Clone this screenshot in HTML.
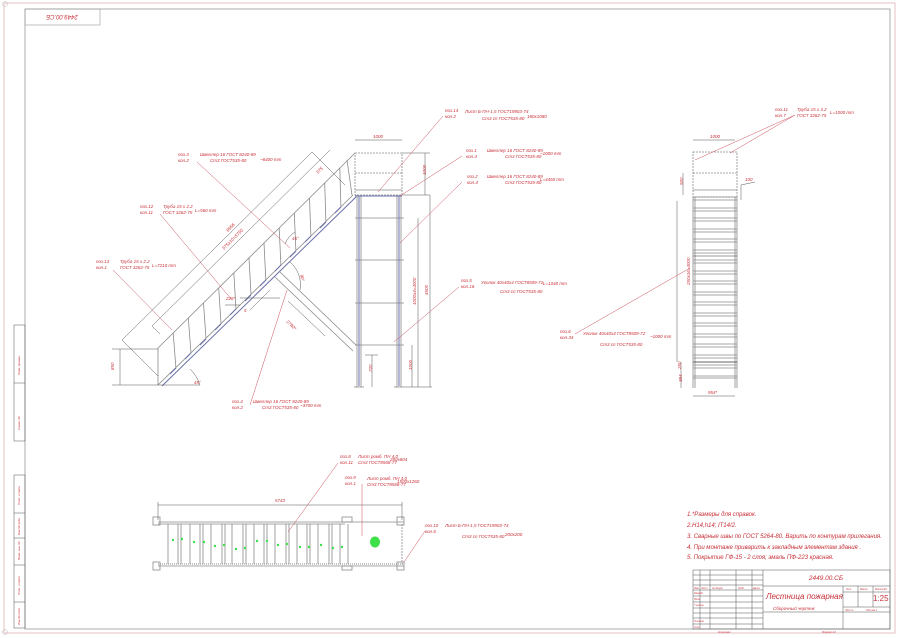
<!DOCTYPE html>
<html><head><meta charset="utf-8"><style>
html,body{margin:0;padding:0;background:#fff;width:910px;height:638px;overflow:hidden}
svg{display:block}
text{font-family:"Liberation Sans","DejaVu Sans",sans-serif;fill:#c8323a;font-style:italic}
.s{font-size:4.5px}
.n{font-size:7px}
.g{stroke:#8a8a8a;stroke-width:.8;fill:none}
.d{stroke:#555;stroke-width:.5;fill:none}
.r{stroke:#c8505a;stroke-width:.5;fill:none}
.b{stroke:#6a70a8;stroke-width:1;fill:none}
</style></head><body>
<svg width="910" height="638" viewBox="0 0 910 638" xmlns="http://www.w3.org/2000/svg">
<rect x="4" y="3" width="891" height="630" fill="none" stroke="#e0b0b4" stroke-width=".8"/>
<rect x="25" y="9" width="865" height="620" fill="none" stroke="#999" stroke-width=".8"/>
<rect x="25" y="9" width="75" height="16" fill="none" stroke="#999" stroke-width=".6"/>
<text x="62" y="20" class="n" text-anchor="middle" transform="rotate(180 62 17.5)" style="font-size:6px">2449.00.СБ</text>
<circle cx="5" cy="4" r="2.5" fill="none" stroke="#bbb" stroke-width=".5"/>
<circle cx="5" cy="632" r="2.5" fill="none" stroke="#bbb" stroke-width=".5"/>
<g class="d" stroke="#999">
<rect x="14" y="325" width="11" height="116"/>
<line x1="14" y1="383" x2="25" y2="383"/>
<rect x="14" y="475" width="11" height="153"/>
<line x1="14" y1="513" x2="25" y2="513"/>
<line x1="14" y1="538" x2="25" y2="538"/>
<line x1="14" y1="565" x2="25" y2="565"/>
<line x1="14" y1="602" x2="25" y2="602"/>
</g>
<g style="font-size:3px">
<text x="20" y="375" transform="rotate(-90 20 375)" class="s" style="font-size:3px">Перв. примен.</text>
<text x="20" y="430" transform="rotate(-90 20 430)" class="s" style="font-size:3px">Справ. №</text>
<text x="20" y="505" transform="rotate(-90 20 505)" class="s" style="font-size:3px">Подп. и дата</text>
<text x="20" y="535" transform="rotate(-90 20 535)" class="s" style="font-size:3px">Инв.№ дубл.</text>
<text x="20" y="560" transform="rotate(-90 20 560)" class="s" style="font-size:3px">Взам. инв. №</text>
<text x="20" y="595" transform="rotate(-90 20 595)" class="s" style="font-size:3px">Подп. и дата</text>
<text x="20" y="625" transform="rotate(-90 20 625)" class="s" style="font-size:3px">Инв.№ подл.</text>
</g>

<g class="g">
<line x1="158" y1="385" x2="353" y2="195"/>
<line x1="158" y1="348" x2="355" y2="153"/>
<line x1="158" y1="348" x2="158" y2="385"/>
<line x1="173.2" y1="333" x2="175.9" y2="367.5"/>
<line x1="188.3" y1="318" x2="191" y2="352.9"/>
<line x1="203.5" y1="303" x2="206" y2="338.3"/>
<line x1="218.7" y1="288" x2="221" y2="323.6"/>
<line x1="233.8" y1="272.9" x2="236" y2="309"/>
<line x1="249" y1="257.9" x2="251" y2="294.4"/>
<line x1="264" y1="243.1" x2="265.8" y2="279.9"/>
<line x1="279.2" y1="228.1" x2="280.9" y2="265.3"/>
<line x1="294.3" y1="213.1" x2="295.9" y2="250.7"/>
<line x1="309.5" y1="198" x2="310.9" y2="236"/>
<line x1="324.7" y1="183" x2="325.9" y2="221.4"/>
<line x1="339.8" y1="168" x2="340.9" y2="206.8"/>
<line x1="347" y1="160" x2="352" y2="195"/>
<line x1="275" y1="277" x2="353" y2="351"/>
<line x1="280" y1="272" x2="356" y2="345"/>
</g>
<line x1="162" y1="386" x2="356" y2="197" class="b"/>
<g class="b" stroke-width="1.5">
<line x1="170" y1="374" x2="176" y2="368"/><line x1="185" y1="359" x2="191" y2="353"/>
<line x1="200" y1="345" x2="206" y2="339"/><line x1="215" y1="330" x2="221" y2="324"/>
<line x1="230" y1="315" x2="236" y2="309"/><line x1="245" y1="301" x2="251" y2="295"/>
<line x1="260" y1="286" x2="266" y2="280"/><line x1="275" y1="271" x2="281" y2="265"/>
<line x1="290" y1="257" x2="296" y2="251"/><line x1="305" y1="242" x2="311" y2="236"/>
<line x1="320" y1="228" x2="326" y2="222"/><line x1="335" y1="213" x2="341" y2="207"/>
</g>
<g class="d">
<line x1="122" y1="340" x2="312" y2="152"/>
<line x1="122" y1="340" x2="158" y2="376"/>
<line x1="312" y1="152" x2="345" y2="185"/>
<line x1="152" y1="326" x2="330" y2="150"/>
<line x1="152" y1="326" x2="160" y2="334"/>
<line x1="120" y1="349" x2="120" y2="385"/>
<line x1="112" y1="349" x2="158" y2="349"/>
<line x1="112" y1="385" x2="200" y2="385"/>
<path d="M190 369 A40 40 0 0 1 200 385"/>
<path d="M290 262 A30 30 0 0 1 300 290"/>
<path d="M285 244 A25 25 0 0 1 295 232"/>
<line x1="240" y1="298" x2="280" y2="298"/>
<line x1="225" y1="305" x2="240" y2="305"/>
<line x1="288" y1="301" x2="325" y2="336"/>
<line x1="270" y1="290" x2="250" y2="310"/>
</g>
<text x="112" y="372" class="s" transform="rotate(-90 112 370)">850</text>
<text x="194" y="384" class="s">45°</text>
<text x="226" y="300" class="s">225*</text>
<text x="244" y="312" class="s">5</text>
<text x="292" y="240" class="s">45°</text>
<text x="300" y="275" class="s" transform="rotate(75 300 275)">90°</text>
<text x="286" y="322" class="s" transform="rotate(44 286 322)">2780*</text>
<text x="228" y="232" class="s" transform="rotate(-45 228 232)">6956</text>
<text x="224" y="250" class="s" transform="rotate(-45 224 250)">575x10=5750</text>
<text x="318" y="174" class="s" transform="rotate(-45 318 174)">575</text>

<g class="g">
<rect x="355" y="153" width="47" height="42" stroke-dasharray="2 1"/>
<line x1="355" y1="173" x2="402" y2="173" stroke-dasharray="2 1"/>
<line x1="355" y1="190" x2="402" y2="190"/>
<line x1="357" y1="195" x2="357" y2="387"/><line x1="361" y1="195" x2="361" y2="387"/>
<line x1="397" y1="195" x2="397" y2="387"/><line x1="401" y1="195" x2="401" y2="387"/>
<line x1="355" y1="218" x2="404" y2="218"/>
<line x1="355" y1="260" x2="404" y2="260"/>
<line x1="355" y1="303" x2="404" y2="303"/>
<line x1="355" y1="345" x2="404" y2="345"/>
<line x1="354" y1="387" x2="364" y2="387"/><line x1="394" y1="387" x2="404" y2="387"/>
</g>
<g class="b" stroke-width=".8">
<line x1="359" y1="196" x2="359" y2="386"/><line x1="399" y1="196" x2="399" y2="386"/>
<line x1="355" y1="196" x2="402" y2="196"/>
</g>
<g class="d">
<line x1="355" y1="140" x2="402" y2="140"/>
<line x1="425" y1="153" x2="425" y2="195"/>
<line x1="430" y1="195" x2="430" y2="387"/>
<line x1="418" y1="218" x2="418" y2="387"/>
<line x1="412" y1="345" x2="412" y2="387"/>
<line x1="372" y1="355" x2="372" y2="387"/>
<line x1="365" y1="355" x2="378" y2="355"/>
<line x1="402" y1="153" x2="430" y2="153"/>
<line x1="402" y1="195" x2="430" y2="195"/>
<line x1="404" y1="387" x2="432" y2="387"/>
</g>
<text x="378" y="138" class="s" text-anchor="middle">1000</text>
<text x="423" y="178" class="s" transform="rotate(-90 423 175)">1000</text>
<text x="428" y="295" class="s" transform="rotate(-90 428 295)">4500</text>
<text x="416" y="305" class="s" transform="rotate(-90 416 305)">1000x4=4000</text>
<text x="410" y="372" class="s" transform="rotate(-90 410 370)">1000</text>
<text x="370" y="374" class="s" transform="rotate(-90 370 372)">720</text>

<g class="g">
<rect x="693" y="152" width="44" height="45" stroke-dasharray="2 1"/>
<line x1="693" y1="173" x2="737" y2="173" stroke-dasharray="2 1"/>
<line x1="693" y1="190" x2="737" y2="190"/>
<line x1="693" y1="197" x2="693" y2="388"/><line x1="695" y1="197" x2="695" y2="388"/>
<line x1="735" y1="197" x2="735" y2="388"/><line x1="737" y1="197" x2="737" y2="388"/>
</g>
<g class="g" stroke-width=".6">
<path d="M693 197H737M693 200H737M693 208H737M693 211H737M693 218H737M693 221H737M693 229H737M693 232H737M693 239H737M693 242H737M693 250H737M693 253H737M693 260H737M693 263H737M693 271H737M693 274H737M693 281H737M693 284H737M693 292H737M693 295H737M693 302H737M693 305H737M693 313H737M693 316H737M693 323H737M693 326H737M693 334H737M693 337H737M693 344H737M693 347H737M693 355H737M693 358H737M693 365H737M693 368H737M693 376H737M693 378H737"/>
</g>
<line x1="693" y1="362" x2="737" y2="362" stroke="#333" stroke-width=".8"/>
<line x1="693" y1="256" x2="737" y2="256" stroke="#333" stroke-width=".6"/>
<g class="d">
<line x1="693" y1="140" x2="735" y2="140"/>
<line x1="683" y1="173" x2="683" y2="195"/>
<line x1="677" y1="201" x2="677" y2="362"/>
<line x1="681" y1="362" x2="681" y2="375"/>
<line x1="681" y1="375" x2="681" y2="388"/>
<line x1="693" y1="396" x2="735" y2="396"/>
<line x1="741" y1="185" x2="741" y2="200"/>
<line x1="741" y1="185" x2="755" y2="182"/>
</g>
<text x="715" y="138" class="s" text-anchor="middle">1000</text>
<text x="681" y="187" class="s" transform="rotate(-90 681 185)">500</text>
<text x="675" y="300" class="s" transform="rotate(-90 675 285)">250x16=4000</text>
<text x="680" y="370" class="s" transform="rotate(-90 680 369)">250</text>
<text x="680" y="384" class="s" transform="rotate(-90 680 382)">384</text>
<text x="708" y="394" class="s">954*</text>
<text x="745" y="181" class="s">100</text>

<g class="g">
<line x1="158" y1="522" x2="404" y2="522"/>
<line x1="158" y1="524" x2="345" y2="524"/>
<line x1="158" y1="566" x2="404" y2="566"/>
<line x1="158" y1="564" x2="404" y2="564" stroke="#666" stroke-dasharray="1 1"/>
<rect x="153" y="517" width="7" height="8"/><rect x="153" y="562" width="7" height="8"/>
<rect x="342" y="517" width="10" height="5"/><rect x="342" y="566" width="10" height="4"/>
<rect x="397" y="517" width="7" height="8"/><rect x="397" y="562" width="7" height="8"/>
<line x1="402" y1="524" x2="402" y2="564" stroke-dasharray="2 1"/>
<line x1="348" y1="524" x2="348" y2="564"/>
<path d="M168 524V564M178 524V564M181 524V564M190 524V564M200 524V564M203 524V564M211 524V564M222 524V564M225 524V564M232 524V564M243 524V564M246 524V564M254 524V564M264 524V564M267 524V564M275 524V564M286 524V564M289 524V564M297 524V564M307 524V564M310 524V564M318 524V564M329 524V564M332 524V564M340 524V564"/>
</g>
<g class="d"><line x1="158" y1="505" x2="402" y2="505"/><line x1="158" y1="502" x2="158" y2="520"/><line x1="402" y1="502" x2="402" y2="520"/></g>
<text x="280" y="502" class="s" text-anchor="middle">5743</text>
<g fill="#3ee04a">
<circle cx="173" cy="540" r="1.2"/><circle cx="182" cy="539" r="1.2"/><circle cx="194" cy="542" r="1.2"/><circle cx="204" cy="542" r="1.2"/>
<circle cx="215" cy="546" r="1.2"/><circle cx="224" cy="545" r="1.2"/><circle cx="236" cy="549" r="1.2"/><circle cx="245" cy="548" r="1.2"/>
<circle cx="257" cy="541" r="1.2"/><circle cx="267" cy="541" r="1.2"/><circle cx="278" cy="545" r="1.2"/><circle cx="287" cy="544" r="1.2"/>
<circle cx="300" cy="547" r="1.2"/><circle cx="309" cy="547" r="1.2"/><circle cx="321" cy="545" r="1.2"/><circle cx="333" cy="548" r="1.2"/><circle cx="342" cy="547" r="1.2"/>
<ellipse cx="375" cy="542" rx="5" ry="5.5"/>
</g>

<g class="r">
<line x1="197" y1="162" x2="290" y2="248"/>
<line x1="160" y1="214" x2="232" y2="300"/>
<line x1="113" y1="270" x2="172" y2="330"/>
<line x1="250" y1="405" x2="287" y2="290"/>
<line x1="443" y1="116" x2="378" y2="192"/>
<line x1="462" y1="156" x2="400" y2="196"/>
<line x1="462" y1="182" x2="400" y2="243"/>
<line x1="459" y1="287" x2="394" y2="342"/>
<line x1="795" y1="115" x2="695" y2="160"/>
<line x1="795" y1="115" x2="730" y2="153"/>
<line x1="575" y1="334" x2="690" y2="268"/>
<line x1="338" y1="463" x2="288" y2="532"/>
<line x1="362" y1="484" x2="362" y2="536"/>
<line x1="425" y1="531" x2="404" y2="562"/>
</g>

<g class="s">
<text x="178" y="156">поз.3</text><text x="178" y="162">кол.2</text>
<text x="200" y="156">Швеллер 16 ГОСТ 8240-89</text><text x="210" y="162">Ст3 ГОСТ535-80</text><text x="260" y="161">~6400 mm</text>
<text x="140" y="208">поз.12</text><text x="140" y="214">кол.11</text>
<text x="163" y="208">Труба 15 x 2.2</text><text x="163" y="214">ГОСТ 3262-75</text><text x="195" y="212">L=560 mm</text>
<text x="96" y="263">поз.13</text><text x="96" y="269">кол.1</text>
<text x="120" y="263">Труба 15 x 2.2</text><text x="120" y="269">ГОСТ 3262-75</text><text x="152" y="267">L=7210 mm</text>
<text x="232" y="403">поз.4</text><text x="232" y="409">кол.2</text>
<text x="253" y="403">Швеллер 16 ГОСТ 8240-89</text><text x="262" y="409">Ст3 ГОСТ535-80</text><text x="300" y="407">~3700 mm</text>
<text x="445" y="112">поз.14</text><text x="445" y="118">кол.2</text>
<text x="465" y="113">Лист Б-ПН-1,5 ГОСТ19903-74</text><text x="482" y="120">Ст3 сп ГОСТ535-80</text><text x="527" y="118">180x1080</text>
<text x="466" y="152">поз.1</text><text x="466" y="158">кол.4</text>
<text x="487" y="152">Швеллер 16 ГОСТ 8240-89</text><text x="505" y="158">Ст3 ГОСТ535-80</text><text x="540" y="155">~1000 mm</text>
<text x="467" y="178">поз.2</text><text x="467" y="184">кол.4</text>
<text x="487" y="178">Швеллер 16 ГОСТ 8240-89</text><text x="505" y="184">Ст3 ГОСТ535-80</text><text x="540" y="181">L=4450 mm</text>
<text x="461" y="282">поз.5</text><text x="461" y="288">кол.16</text>
<text x="481" y="284">Уголок 40x40x4 ГОСТ8509-72</text><text x="500" y="293">Ст3 сп ГОСТ535-80</text><text x="543" y="285">L=1040 mm</text>
<text x="775" y="111">поз.11</text><text x="775" y="117">кол.7</text>
<text x="797" y="111">Труба 15 x 3.2</text><text x="797" y="117">ГОСТ 3262-75</text><text x="830" y="114">L=1000 mm</text>
<text x="560" y="333">поз.6</text><text x="560" y="339">кол.34</text>
<text x="583" y="335">Уголок 40x40x4 ГОСТ8509-72</text><text x="600" y="346">Ст3 сп ГОСТ535-80</text><text x="650" y="338">~1000 mm</text>
<text x="340" y="458">поз.8</text><text x="340" y="464">кол.11</text>
<text x="358" y="458">Лист ромб. ПН 4.0</text><text x="358" y="464">Ст3 ГОСТ8568-77</text><text x="390" y="461">280x804</text>
<text x="345" y="479">поз.9</text><text x="345" y="485">кол.1</text>
<text x="367" y="480">Лист ромб. ПН 4.0</text><text x="367" y="486">Ст3 ГОСТ8568-77</text><text x="397" y="483">1500x1260</text>
<text x="425" y="527">поз.10</text><text x="425" y="533">кол.6</text>
<text x="445" y="527">Лист Б-ПН-1,5 ГОСТ19903-74</text><text x="462" y="538">Ст3 сп ГОСТ535-80</text><text x="505" y="536">200x200</text>
</g>

<g class="n" style="font-size:6.1px;letter-spacing:-0.05px">
<text x="687" y="516">1.*Размеры для справок.</text>
<text x="687" y="527">2.H14,h14;  IT14/2.</text>
<text x="687" y="538">3. Сварные швы по ГОСТ 5264-80. Варить по контурам прилегания.</text>
<text x="687" y="549">4. При монтаже приварить к закладным элементам здания .</text>
<text x="687" y="559">5. Покрытие ГФ-15 - 2 слоя; эмаль ПФ-223 красная.</text>
</g>

<g stroke="#555" stroke-width=".5" fill="none">
<rect x="693" y="570" width="197" height="59"/>
<line x1="763" y1="570" x2="763" y2="629"/>
<line x1="763" y1="586" x2="890" y2="586"/>
<line x1="843" y1="586" x2="843" y2="629"/>
<line x1="843" y1="592" x2="890" y2="592"/>
<line x1="843" y1="607" x2="890" y2="607"/>
<line x1="858" y1="586" x2="858" y2="607"/>
<line x1="873" y1="586" x2="873" y2="607"/>
<line x1="763" y1="612" x2="890" y2="612"/>
<line x1="700" y1="570" x2="700" y2="629"/><line x1="710" y1="570" x2="710" y2="629"/>
<line x1="736" y1="570" x2="736" y2="629"/><line x1="752" y1="570" x2="752" y2="629"/>
<path d="M693 575H763M693 580H763M693 585H763M693 590H763M693 596H763M693 602H763M693 608H763M693 613H763M693 618H763M693 624H763"/>
</g>
<text x="826" y="580" class="n" text-anchor="middle" style="font-size:6.5px">2449.00.СБ</text>
<text x="766" y="599" class="n" style="font-size:8px">Лестница пожарная</text>
<text x="773" y="610" class="s" style="font-size:4.5px">Сборочный чертеж</text>
<text x="873" y="601" class="n" style="font-size:8px;font-style:normal">1:25</text>
<g class="s" style="font-size:2.5px">
<text x="846" y="590">Лит.</text><text x="860" y="590">Масса</text><text x="875" y="590">Масштаб</text>
<text x="845" y="611">Лист 1</text><text x="866" y="611">Листов 1</text>
<text x="694" y="589">Изм.</text><text x="701" y="589">Лист</text><text x="712" y="589">№ докум.</text><text x="738" y="589">Подп.</text><text x="753" y="589">Дата</text>
<text x="694" y="594">Разраб.</text><text x="694" y="600">Пров.</text><text x="694" y="606">Т.контр.</text><text x="694" y="622">Н.контр.</text><text x="694" y="628">Утв.</text>
<text x="718" y="633">Копировал</text><text x="822" y="633">Формат A3</text>
</g>
</svg>
</body></html>
